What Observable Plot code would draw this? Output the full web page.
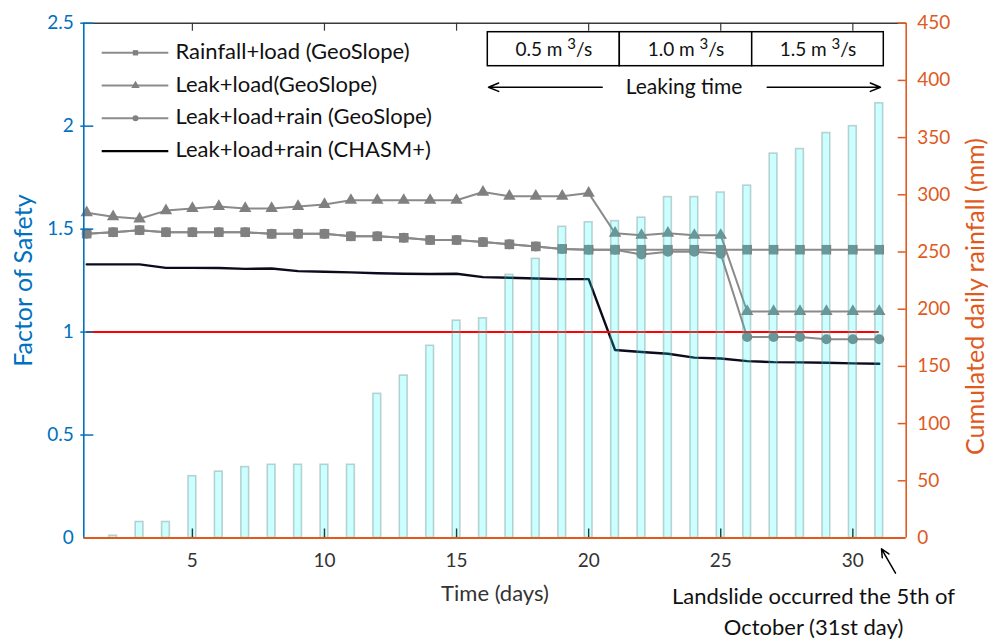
<!DOCTYPE html>
<html>
<head>
<meta charset="utf-8">
<script src="https://cdn.jsdelivr.net/npm/d3@7"></script>
<script src="https://cdn.jsdelivr.net/npm/@observablehq/plot@0.6"></script>
<style>
  html, body { margin: 0; padding: 0; background: #fff; }
  #chart svg { display: block; }
</style>
</head>
<body>
<div id="chart"></div>
<script>
// ---------- data ----------
const days = [1,2,3,4,5,6,7,8,9,10,11,12,13,14,15,16,17,18,19,20,21,22,23,24,25,26,27,28,29,30,31];
const rainfall = [0,2,14,14,54,58,62,64,64,64,64,126,142,168,190,192,230,244,272,276,277,280,298,298,302,308,336,340,354,360,380];
const rainfallLoad = [1.478,1.485,1.495,1.485,1.485,1.485,1.485,1.477,1.477,1.477,1.465,1.465,1.458,1.447,1.447,1.437,1.426,1.416,1.404,1.40,1.40,1.40,1.40,1.40,1.40,1.40,1.40,1.40,1.40,1.40,1.40];
const leakLoad = [1.58,1.56,1.55,1.59,1.60,1.61,1.60,1.60,1.61,1.62,1.64,1.64,1.64,1.64,1.64,1.68,1.66,1.66,1.66,1.675,1.48,1.47,1.48,1.47,1.47,1.10,1.10,1.10,1.10,1.10,1.10];
const leakLoadRain = [1.478,1.485,1.495,1.485,1.485,1.485,1.485,1.477,1.477,1.477,1.465,1.465,1.458,1.447,1.447,1.437,1.426,1.416,1.404,1.40,1.40,1.377,1.39,1.39,1.38,0.976,0.976,0.976,0.965,0.965,0.965];
const chasm = [1.329,1.329,1.329,1.312,1.312,1.311,1.307,1.309,1.296,1.293,1.29,1.286,1.283,1.282,1.283,1.267,1.264,1.26,1.257,1.257,0.913,0.903,0.895,0.876,0.872,0.859,0.854,0.853,0.851,0.848,0.846];
const threshold = 1;

const xTicks = [5,10,15,20,25,30];
const fsTicks = [0,0.5,1,1.5,2,2.5];
const fsTickLabels = ["0","0.5","1","1.5","2","2.5"];
const rainTicks = [0,50,100,150,200,250,300,350,400,450];
const legendLabels = ["Rainfall+load (GeoSlope)","Leak+load(GeoSlope)","Leak+load+rain (GeoSlope)","Leak+load+rain (CHASM+)"];
const leakRates = ["0.5 m³/s","1.0 m³/s","1.5 m³/s"];
const leakLabel = "Leaking time";
const noteLines = ["Landslide occurred the 5th of", "October (31st day)"];
const xTitle = "Time (days)";
const yTitle = "Factor of Safety";
const y2Title = "Cumulated daily rainfall (mm)";

// ---------- layout ----------
const W = 988, H = 641;
const L = 83.3, R = 905.7, T = 22.7, B = 537.5;
const xDomain = [0.89, 32.02];
const fsMax = 2.5, rainMax = 450;
const k = fsMax / rainMax;
const pxPerDay = (R - L) / (xDomain[1] - xDomain[0]);
const pxPerFs = (B - T) / fsMax;
const X = px => xDomain[0] + (px - L) / pxPerDay;
const Y = py => (B - py) / pxPerFs;

const BLUE = "#0070C0", ORANGE = "#E05A1E", GREY = "#808080", LINEGREY = "#8a8a8a", DARK = "#3a3a3a";
const FONT = "Lato, 'Noto Sans', sans-serif";

const rows = days.map((d, i) => ({day: d, rain: rainfall[i], sq: rainfallLoad[i], tri: leakLoad[i], cir: leakLoadRain[i], ch: chasm[i]}));
const barHalf = 3.9 / pxPerDay;

// legend layout
const legRows = [52.3, 85, 117.7, 150.7];
const legend = legendLabels.map((t, i) => ({t, y: Y(legRows[i]), i}));
const legX1 = X(101.7), legX2 = X(168.3), legXm = X(135), legXt = 175;

// leak boxes
const boxEdges = [487.3, 619.3, 751.7, 883.3];
const boxes = leakRates.map((t, i) => ({t, x1: X(boxEdges[i]), x2: X(boxEdges[i+1])}));
const noteRowsPx = [596, 627];

const plot = Plot.plot({
  width: W, height: H,
  marginLeft: L, marginRight: W - R, marginTop: T, marginBottom: H - B,
  x: {domain: xDomain, axis: null},
  y: {domain: [0, fsMax], axis: null},
  style: {fontFamily: FONT, background: "#fff", overflow: "visible"},
  marks: [
    // GeoSlope series
    Plot.line(rows, {x: "day", y: "cir", stroke: LINEGREY, strokeWidth: 2}),
    Plot.line(rows, {x: "day", y: "tri", stroke: LINEGREY, strokeWidth: 2}),
    Plot.line(rows, {x: "day", y: "sq", stroke: LINEGREY, strokeWidth: 2}),
    Plot.dot(rows, {x: "day", y: "cir", symbol: "circle", r: 5, fill: GREY, stroke: "none"}),
    Plot.dot(rows, {x: "day", y: "tri", symbol: "triangle", r: 4.6, fill: GREY, stroke: "none"}),
    Plot.dot(rows, {x: "day", y: "sq", symbol: "square", r: 5.4, fill: GREY, stroke: "none"}),
    // CHASM+
    Plot.line(rows, {x: "day", y: "ch", stroke: "#0b0b1e", strokeWidth: 2.4}),
    // threshold
    Plot.ruleY([threshold], {x1: days[0], x2: days[days.length-1], stroke: "#ff0000", strokeWidth: 2}),
    // rainfall bars
    Plot.rect(rows, {x1: d => d.day - barHalf, x2: d => d.day + barHalf, y1: 0, y2: d => d.rain * k,
      fill: "#00ffff", fillOpacity: 0.2, stroke: "#6f8f8f", strokeOpacity: 0.4, strokeWidth: 1.6}),

    // frame lines
    Plot.ruleY([fsMax], {stroke: DARK, strokeWidth: 1.5}),
    Plot.ruleX(xTicks, {y1: fsMax, y2: fsMax - 8 / pxPerFs, stroke: DARK, strokeWidth: 1.2}),
    Plot.ruleX(xTicks, {y1: 0, y2: 9 / pxPerFs, stroke: "#1e3c3c", strokeWidth: 1.4}),
    Plot.ruleY([0], {stroke: ORANGE, strokeWidth: 2}),
    Plot.ruleX([xDomain[0]], {stroke: BLUE, strokeWidth: 1.6}),
    Plot.ruleY(fsTicks.slice(1), {x1: X(L - 3), x2: X(L + 10), stroke: BLUE, strokeWidth: 1.5}),
    Plot.ruleX([xDomain[1]], {stroke: ORANGE, strokeWidth: 1.6}),
    Plot.ruleY(rainTicks.slice(1).map(v => v * k), {x1: X(R - 8), x2: xDomain[1], stroke: ORANGE, strokeWidth: 1.5}),

    // tick labels
    Plot.text(fsTicks, {x: xDomain[0], y: d => d, text: (d, i) => fsTickLabels[i], dx: -10, textAnchor: "end", fill: BLUE, fontSize: 19}),
    Plot.text(rainTicks, {x: xDomain[1], y: d => d * k, text: d => String(d), dx: 11, textAnchor: "start", fill: ORANGE, fontSize: 19}),
    Plot.text(xTicks, {x: d => d, y: 0, dy: 23, text: d => String(d), fill: "#333", fontSize: 19}),

    // axis titles
    Plot.text([xTitle], {frameAnchor: "bottom", dy: 56, textAnchor: "middle", lineAnchor: "middle", fill: "#333", fontSize: 22}),
    Plot.text([yTitle], {frameAnchor: "left", dx: -60, textAnchor: "middle", lineAnchor: "middle", rotate: -90, fill: BLUE, fontSize: 25}),
    Plot.text([y2Title], {frameAnchor: "right", dx: 70, dy: 16, textAnchor: "middle", lineAnchor: "middle", rotate: -90, fill: ORANGE, fontSize: 25}),

    // legend
    Plot.ruleY(legend, {y: "y", x1: legX1, x2: legX2, stroke: d => d.i === 3 ? "#000" : "#8c8c8c", strokeWidth: d => d.i === 3 ? 2.2 : 2}),
    Plot.dot(legend.filter(d => d.i < 3), {x: legXm, y: "y", symbol: d => ["square","triangle","circle"][d.i], r: d => [4.8, 5.2, 4.8][d.i], fill: GREY, stroke: "none"}),
    Plot.text(legend, {x: X(legXt), y: "y", text: "t", textAnchor: "start", lineAnchor: "middle", fill: "#111", fontSize: 22, dy: -1}),

    // leak-rate boxes
    Plot.rect(boxes, {x1: "x1", x2: "x2", y1: Y(65.7), y2: Y(31.7), fill: "#fff", stroke: "#000", strokeWidth: 1.5}),
    Plot.text(boxes, {x: d => (d.x1 + d.x2) / 2, y: Y(49), text: "t", fill: "#111", fontSize: 19, className: "leakrate"}),
    Plot.arrow([0], {x1: X(601.7), x2: X(488), y1: Y(86.7), y2: Y(86.7), stroke: "#000", strokeWidth: 1.5, headLength: 11, headAngle: 45}),
    Plot.arrow([0], {x1: X(766.7), x2: X(880), y1: Y(86.7), y2: Y(86.7), stroke: "#000", strokeWidth: 1.5, headLength: 11, headAngle: 45}),
    Plot.text([leakLabel], {x: X(683.5), y: Y(87), fill: "#111", fontSize: 21}),

    // landslide note
    Plot.arrow([0], {x1: X(895), y1: Y(572.7), x2: X(881), y2: Y(548.3), stroke: "#000", strokeWidth: 1.5, headLength: 9, headAngle: 50}),
    Plot.text(noteLines, {x: X(813), y: (d, i) => Y(noteRowsPx[i]), lineAnchor: "middle", fill: "#111", fontSize: 22})
  ]
});
document.getElementById("chart").append(plot);

// render the cubic-metre superscript as a raised digit
plot.querySelectorAll("g.leakrate text").forEach(t => {
  const s = t.textContent;
  const idx = s.indexOf("³");
  if (idx < 0) return;
  t.textContent = "";
  const ns = "http://www.w3.org/2000/svg";
  const a = document.createElementNS(ns, "tspan"); a.textContent = s.slice(0, idx) + " ";
  const b = document.createElementNS(ns, "tspan"); b.textContent = "3"; b.setAttribute("dy", "-7"); b.setAttribute("font-size", "15");
  const c = document.createElementNS(ns, "tspan"); c.textContent = s.slice(idx + 1); c.setAttribute("dy", "7");
  t.append(a, b, c);
});
</script>
</body>
</html>
